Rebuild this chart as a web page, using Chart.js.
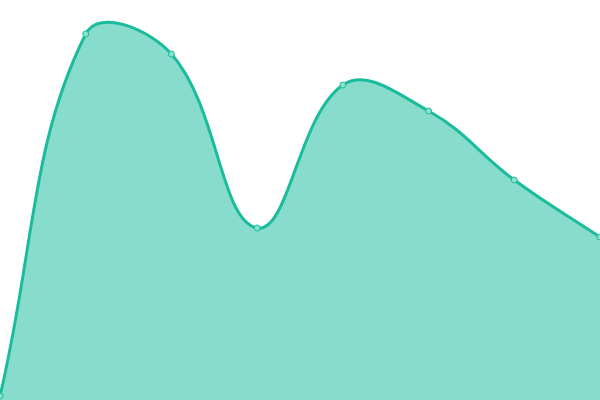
<!DOCTYPE html>
<html>
<head>
<meta charset="utf-8">
<script src="https://cdn.jsdelivr.net/npm/chart.js@4"></script>
<style>
  html, body { margin: 0; padding: 0; background: #fff; }
  #wrap { width: 600px; height: 400px; }
</style>
</head>
<body>
<div id="wrap"><canvas id="areaChart"></canvas></div>
<script>
const labels = ['1', '2', '3', '4', '5', '6', '7', '8'];
const values = [4, 366, 346, 172, 315, 289, 220, 163];

const ctx = document.getElementById('areaChart').getContext('2d');

new Chart(ctx, {
    type: 'line',
    data: {
        labels,
        datasets: [{
            data: values,
            borderColor: '#1abc9c',
            backgroundColor: 'rgba(26, 188, 156, 0.52)',
            pointBackgroundColor: '#8ce0cf',
            pointBorderColor: '#1abc9c',
            pointBorderWidth: 1,
            pointRadius: 3,
            borderWidth: 3,
            fill: true,
            tension: 0.4,
            clip: false
        }]
    },
    options: {
        responsive: true,
        maintainAspectRatio: false,
        animation: false,
        layout: { padding: 0, autoPadding: false },
        plugins: {
            legend: { display: false },
            tooltip: { enabled: false }
        },
        scales: {
            x: { display: false },
            y: { display: false, min: 0, max: 400 }
        }
    }
});
</script>
</body>
</html>
